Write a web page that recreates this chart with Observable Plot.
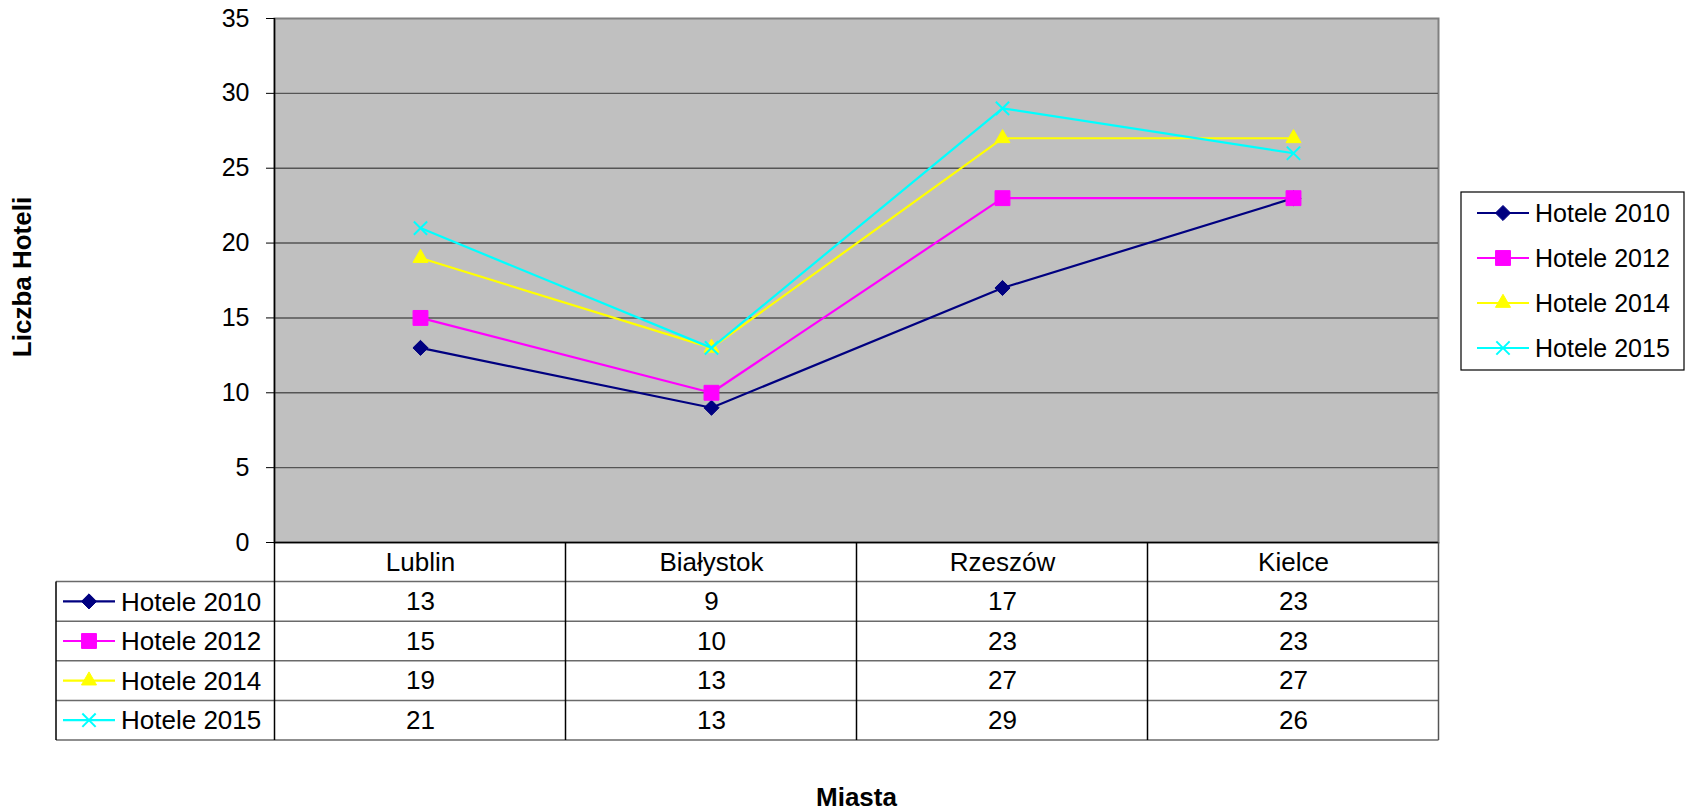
<!DOCTYPE html>
<html>
<head>
<meta charset="utf-8">
<script src="https://cdn.jsdelivr.net/npm/d3@7"></script>
<script src="https://cdn.jsdelivr.net/npm/@observablehq/plot@0.6"></script>
<style>
  body { margin: 0; background: #fff; }
  #chart svg { display: block; }
</style>
</head>
<body>
<div id="chart"></div>
<script>
// Number of hotels per city, by year
const cities = ["Lublin", "Białystok", "Rzeszów", "Kielce"];
const seriesNames = ["Hotele 2010", "Hotele 2012", "Hotele 2014", "Hotele 2015"];
const hotels2010 = [13, 9, 17, 23];
const hotels2012 = [15, 10, 23, 23];
const hotels2014 = [19, 13, 27, 27];
const hotels2015 = [21, 13, 29, 26];
const yTicks = [0, 5, 10, 15, 20, 25, 30, 35];
const yTitle = "Liczba Hoteli";
const xTitle = "Miasta";

// Styling per series
const seriesValues = [hotels2010, hotels2012, hotels2014, hotels2015];
const seriesColors = ["#000080", "#ff00ff", "#ffff00", "#00ffff"];
const seriesSymbols = ["diamond2", "square", "triangle", "times"];
const d3Symbols = [d3.symbolDiamond2, d3.symbolSquare, d3.symbolTriangle, d3.symbolTimes];
const seriesR = [6.8, 8.4, 5.6, 6.1];

const rows = seriesNames.flatMap((s, i) =>
  cities.map((c, j) => ({series: s, city: c, value: seriesValues[i][j]}))
);

const FONT = "'Liberation Sans', Arial, sans-serif";
const W = 1690, H = 811;
const M = {left: 274, right: 252, top: 18, bottom: 269};
const rowH = 39.6;

const marks = [
  Plot.frame({fill: "#c0c0c0", stroke: "#808080", strokeWidth: 2}),
  Plot.ruleY(yTicks.filter(t => t > 0 && t < 35), {stroke: "#555", strokeWidth: 1.4}),
  Plot.ruleY([0], {stroke: "#000", strokeWidth: 1.5}),
  Plot.axisY(yTicks, {tickSize: 8, tickPadding: 17, fontSize: 25, stroke: "#000", label: null}),
  // Category header row under the plot
  Plot.text(cities, {x: d => d, frameAnchor: "bottom", lineAnchor: "middle", dy: rowH / 2, fontSize: 26, fill: "#000"})
];

seriesNames.forEach((s, i) => {
  const data = rows.filter(d => d.series === s);
  const filled = seriesSymbols[i] !== "times";
  marks.push(
    Plot.line(data, {x: "city", y: "value", stroke: seriesColors[i], strokeWidth: 2.2}),
    Plot.dot(data, {
      x: "city", y: "value", symbol: () => seriesSymbols[i], r: seriesR[i],
      fill: filled ? seriesColors[i] : "none",
      stroke: seriesColors[i], strokeWidth: filled ? 1 : 2
    }),
    // Data table row for this series
    Plot.text(data, {
      x: "city", text: d => String(d.value), frameAnchor: "bottom", lineAnchor: "middle",
      dy: rowH * (i + 1.5), fontSize: 26, fill: "#000"
    })
  );
});

const chart = Plot.plot({
  width: W, height: H,
  marginLeft: M.left, marginRight: M.right, marginTop: M.top, marginBottom: M.bottom,
  style: {fontFamily: FONT, fontSize: "25px", background: "#fff", color: "#000", overflow: "visible"},
  x: {type: "point", domain: cities, padding: 0.5, axis: null},
  y: {domain: [0, 35], axis: null, label: null},
  marks
});

document.getElementById("chart").appendChild(chart);

// Table grid, keys, legend and titles positioned from the plot's x scale
const svg = d3.select(chart);
const xs = chart.scale("x");
const step = xs.apply(cities[1]) - xs.apply(cities[0]);
const bounds = cities.map(c => xs.apply(c) - step / 2).concat([xs.apply(cities[cities.length - 1]) + step / 2]);
const plotLeft = bounds[0], plotRight = bounds[bounds.length - 1];
const y0 = H - M.bottom;
const tableTop = y0 + rowH;
const tableBottom = y0 + rowH * (seriesNames.length + 1);
const keyLeft = 56;

const g = svg.append("g");
// horizontal row lines
for (let r = 1; r <= seriesNames.length + 1; r++) {
  g.append("line").attr("x1", keyLeft).attr("x2", plotRight)
    .attr("y1", y0 + rowH * r).attr("y2", y0 + rowH * r)
    .attr("stroke", "#6a6a6a").attr("stroke-width", 1.5);
}
// vertical column lines
bounds.forEach((bx, k) => {
  g.append("line").attr("x1", bx).attr("x2", bx)
    .attr("y1", k === 0 ? M.top : y0).attr("y2", tableBottom)
    .attr("stroke", k === bounds.length - 1 ? "#555" : "#000").attr("stroke-width", 1.5);
});
g.append("line").attr("x1", keyLeft).attr("x2", keyLeft)
  .attr("y1", tableTop).attr("y2", tableBottom)
  .attr("stroke", "#000").attr("stroke-width", 1.5);

// series key drawn inside a row or the legend
function key(parent, i, cx, cy, fontSize) {
  parent.append("line").attr("x1", cx - 26).attr("x2", cx + 26).attr("y1", cy).attr("y2", cy)
    .attr("stroke", seriesColors[i]).attr("stroke-width", 2.2);
  const filled = seriesSymbols[i] !== "times";
  parent.append("path")
    .attr("d", d3.symbol(d3Symbols[i], Math.PI * seriesR[i] * seriesR[i])())
    .attr("transform", `translate(${cx},${cy})`)
    .attr("fill", filled ? seriesColors[i] : "none")
    .attr("stroke", seriesColors[i]).attr("stroke-width", filled ? 1 : 2);
  parent.append("text").attr("x", cx + 32).attr("y", cy).attr("dy", "0.35em")
    .attr("text-anchor", "start")
    .attr("font-size", fontSize).attr("font-family", FONT).attr("fill", "#000")
    .text(seriesNames[i]);
}

seriesNames.forEach((s, i) => key(g, i, 89, tableTop + rowH * (i + 0.5), 26));

// Legend box on the right
const legend = svg.append("g");
legend.append("rect").attr("x", 1461).attr("y", 192).attr("width", 223).attr("height", 178)
  .attr("fill", "#fff").attr("stroke", "#000").attr("stroke-width", 1.2);
seriesNames.forEach((s, i) => key(legend, i, 1503, 213 + 45 * i, 25));

// Axis titles
svg.append("text").attr("transform", "translate(22,277) rotate(-90)")
  .attr("text-anchor", "middle").attr("dy", "0.35em")
  .attr("font-family", FONT).attr("font-size", 26).attr("font-weight", "bold").attr("fill", "#000")
  .text(yTitle);
svg.append("text").attr("x", (plotLeft + plotRight) / 2).attr("y", 806)
  .attr("text-anchor", "middle")
  .attr("font-family", FONT).attr("font-size", 26).attr("font-weight", "bold").attr("fill", "#000")
  .text(xTitle);
</script>
</body>
</html>
